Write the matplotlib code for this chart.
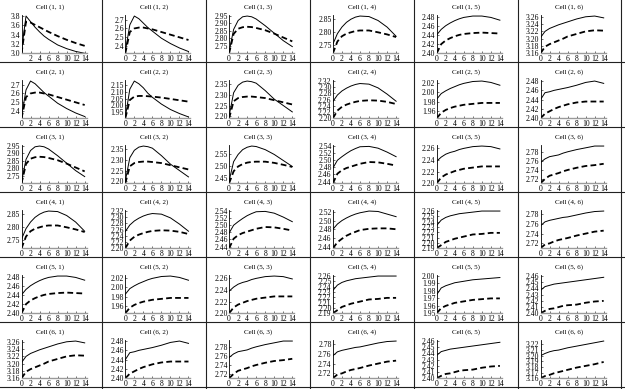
import matplotlib
matplotlib.use("Agg")
import matplotlib.pyplot as plt
from matplotlib.lines import Line2D

plt.rcParams['font.family'] = ['Liberation Serif', 'DejaVu Serif']

# horizon (periods)
t = [0, 1, 2, 3, 4, 5, 6, 8, 10, 12, 14]

# solid / dashed responses per cell (matrix is symmetric), plus y tick values
solid_11 = [3.05, 3.80, 3.68, 3.56, 3.46, 3.37, 3.30, 3.18, 3.10, 3.04, 3.00]
dashed_11 = [3.00, 3.68, 3.66, 3.61, 3.56, 3.51, 3.46, 3.37, 3.29, 3.22, 3.16]
ticks_11 = [3.0, 3.2, 3.4, 3.6, 3.8]

solid_12 = [2.34, 2.64, 2.74, 2.71, 2.66, 2.61, 2.57, 2.49, 2.43, 2.38, 2.34]
dashed_12 = [2.32, 2.56, 2.60, 2.61, 2.61, 2.60, 2.59, 2.56, 2.53, 2.50, 2.47]
ticks_12 = [2.4, 2.5, 2.6, 2.7]

solid_13 = [2.71, 2.86, 2.92, 2.945, 2.95, 2.945, 2.93, 2.885, 2.835, 2.785, 2.745]
dashed_13 = [2.70, 2.83, 2.865, 2.875, 2.878, 2.876, 2.87, 2.855, 2.832, 2.806, 2.78]
ticks_13 = [2.75, 2.80, 2.85, 2.90, 2.95]

solid_14 = [2.755, 2.795, 2.82, 2.838, 2.85, 2.858, 2.862, 2.86, 2.845, 2.82, 2.785]
dashed_14 = [2.72, 2.765, 2.785, 2.795, 2.80, 2.805, 2.807, 2.807, 2.80, 2.792, 2.782]
ticks_14 = [2.75, 2.80, 2.85]

solid_15 = [2.44, 2.452, 2.46, 2.466, 2.471, 2.475, 2.478, 2.481, 2.481, 2.478, 2.472]
dashed_15 = [2.40, 2.42, 2.428, 2.433, 2.437, 2.44, 2.442, 2.444, 2.445, 2.444, 2.443]
ticks_15 = [2.40, 2.42, 2.44, 2.46, 2.48]

solid_16 = [3.203, 3.22, 3.228, 3.233, 3.238, 3.242, 3.246, 3.254, 3.26, 3.262, 3.257]
dashed_16 = [3.16, 3.178, 3.185, 3.19, 3.195, 3.20, 3.206, 3.213, 3.22, 3.223, 3.222]
ticks_16 = [3.16, 3.18, 3.20, 3.22, 3.24, 3.26]

solid_22 = [1.91, 2.12, 2.18, 2.16, 2.13, 2.09, 2.06, 2.01, 1.97, 1.94, 1.915]
dashed_22 = [1.905, 2.04, 2.065, 2.07, 2.07, 2.068, 2.065, 2.058, 2.048, 2.038, 2.028]
ticks_22 = [1.95, 2.00, 2.05, 2.10, 2.15]

solid_23 = [2.20, 2.31, 2.345, 2.36, 2.365, 2.362, 2.355, 2.32, 2.28, 2.25, 2.22]
dashed_23 = [2.19, 2.27, 2.285, 2.29, 2.292, 2.292, 2.29, 2.285, 2.275, 2.265, 2.255]
ticks_23 = [2.20, 2.25, 2.30, 2.35]

solid_24 = [2.254, 2.275, 2.288, 2.297, 2.304, 2.309, 2.312, 2.31, 2.298, 2.278, 2.255]
dashed_24 = [2.20, 2.225, 2.237, 2.244, 2.249, 2.253, 2.256, 2.258, 2.257, 2.253, 2.246]
ticks_24 = [2.20, 2.22, 2.24, 2.26, 2.28, 2.30, 2.32]

solid_25 = [1.985, 1.997, 2.003, 2.008, 2.012, 2.016, 2.019, 2.023, 2.024, 2.021, 2.015]
dashed_25 = [1.944, 1.956, 1.962, 1.966, 1.969, 1.971, 1.973, 1.975, 1.977, 1.977, 1.977]
ticks_25 = [1.96, 1.98, 2.00, 2.02]

solid_26 = [2.44, 2.455, 2.457, 2.46, 2.462, 2.464, 2.466, 2.471, 2.477, 2.48, 2.475]
dashed_26 = [2.40, 2.41, 2.415, 2.42, 2.424, 2.427, 2.43, 2.434, 2.436, 2.436, 2.436]
ticks_26 = [2.40, 2.42, 2.44, 2.46, 2.48]

solid_33 = [2.44, 2.52, 2.55, 2.57, 2.58, 2.585, 2.583, 2.57, 2.55, 2.525, 2.50]
dashed_33 = [2.43, 2.48, 2.50, 2.51, 2.516, 2.519, 2.52, 2.52, 2.515, 2.507, 2.498]
ticks_33 = [2.45, 2.50, 2.55]

solid_34 = [2.478, 2.50, 2.51, 2.519, 2.527, 2.533, 2.538, 2.539, 2.534, 2.523, 2.51]
dashed_34 = [2.435, 2.462, 2.472, 2.478, 2.482, 2.486, 2.49, 2.495, 2.494, 2.49, 2.485]
ticks_34 = [2.44, 2.46, 2.48, 2.50, 2.52, 2.54]

solid_35 = [2.238, 2.245, 2.25, 2.253, 2.255, 2.258, 2.26, 2.263, 2.264, 2.263, 2.259]
dashed_35 = [2.20, 2.21, 2.215, 2.218, 2.221, 2.223, 2.225, 2.227, 2.229, 2.229, 2.229]
ticks_35 = [2.20, 2.22, 2.24, 2.26]

solid_36 = [2.757, 2.765, 2.77, 2.772, 2.774, 2.778, 2.781, 2.786, 2.79, 2.794, 2.794]
dashed_36 = [2.71, 2.72, 2.727, 2.73, 2.733, 2.737, 2.74, 2.745, 2.749, 2.751, 2.754]
ticks_36 = [2.72, 2.74, 2.76, 2.78]

solid_44 = [2.48, 2.492, 2.50, 2.506, 2.511, 2.515, 2.518, 2.522, 2.521, 2.515, 2.509]
dashed_44 = [2.436, 2.45, 2.458, 2.465, 2.47, 2.474, 2.478, 2.481, 2.482, 2.482, 2.48]
ticks_44 = [2.44, 2.46, 2.48, 2.50, 2.52]

solid_45 = [2.233, 2.243, 2.248, 2.251, 2.253, 2.255, 2.256, 2.258, 2.26, 2.26, 2.26]
dashed_45 = [2.19, 2.196, 2.202, 2.205, 2.208, 2.21, 2.212, 2.216, 2.217, 2.219, 2.219]
ticks_45 = [2.19, 2.20, 2.21, 2.22, 2.23, 2.24, 2.25, 2.26]

solid_46 = [2.756, 2.764, 2.767, 2.769, 2.771, 2.773, 2.774, 2.778, 2.782, 2.785, 2.786]
dashed_46 = [2.71, 2.718, 2.72, 2.724, 2.727, 2.729, 2.731, 2.736, 2.74, 2.744, 2.746]
ticks_46 = [2.72, 2.74, 2.76, 2.78]

solid_55 = [1.975, 1.984, 1.987, 1.989, 1.991, 1.992, 1.993, 1.995, 1.996, 1.997, 1.998]
dashed_55 = [1.95, 1.957, 1.96, 1.962, 1.964, 1.965, 1.966, 1.968, 1.969, 1.97, 1.97]
ticks_55 = [1.95, 1.96, 1.97, 1.98, 1.99, 2.00]

solid_56 = [2.437, 2.443, 2.445, 2.447, 2.448, 2.449, 2.45, 2.452, 2.454, 2.456, 2.458]
dashed_56 = [2.40, 2.404, 2.407, 2.408, 2.41, 2.412, 2.413, 2.414, 2.417, 2.419, 2.42]
ticks_56 = [2.40, 2.41, 2.42, 2.43, 2.44, 2.45, 2.46]

solid_66 = [3.20, 3.204, 3.207, 3.209, 3.21, 3.212, 3.214, 3.217, 3.22, 3.223, 3.226]
dashed_66 = [3.16, 3.164, 3.166, 3.169, 3.171, 3.173, 3.175, 3.179, 3.182, 3.185, 3.189]
ticks_66 = [3.16, 3.17, 3.18, 3.19, 3.20, 3.21, 3.22]

cells = {
    (1, 1): (solid_11, dashed_11, ticks_11), (1, 2): (solid_12, dashed_12, ticks_12),
    (1, 3): (solid_13, dashed_13, ticks_13), (1, 4): (solid_14, dashed_14, ticks_14),
    (1, 5): (solid_15, dashed_15, ticks_15), (1, 6): (solid_16, dashed_16, ticks_16),
    (2, 2): (solid_22, dashed_22, ticks_22), (2, 3): (solid_23, dashed_23, ticks_23),
    (2, 4): (solid_24, dashed_24, ticks_24), (2, 5): (solid_25, dashed_25, ticks_25),
    (2, 6): (solid_26, dashed_26, ticks_26), (3, 3): (solid_33, dashed_33, ticks_33),
    (3, 4): (solid_34, dashed_34, ticks_34), (3, 5): (solid_35, dashed_35, ticks_35),
    (3, 6): (solid_36, dashed_36, ticks_36), (4, 4): (solid_44, dashed_44, ticks_44),
    (4, 5): (solid_45, dashed_45, ticks_45), (4, 6): (solid_46, dashed_46, ticks_46),
    (5, 5): (solid_55, dashed_55, ticks_55), (5, 6): (solid_56, dashed_56, ticks_56),
    (6, 6): (solid_66, dashed_66, ticks_66),
}

W, H = 625, 389
fig = plt.figure(figsize=(W / 100, H / 100), dpi=100)
# the table is cropped a little on the left/top
cw, ch = 103.8, 65.0
ox, oy = -1.5, -3.0

# table grid
for k in range(7):
    x = (ox + k * cw) / W
    if 0 <= x <= 1:
        fig.add_artist(Line2D([x, x], [0, 1], color='#222222', lw=0.8))
    y = 1 - (oy + k * ch) / H
    if 0 <= y <= 1:
        fig.add_artist(Line2D([0, 1], [y, y], color='#222222', lw=0.8))

for i in range(1, 7):
    for j in range(1, 7):
        s, d, ticks = cells[(min(i, j), max(i, j))]
        x0 = ox + (j - 1) * cw
        y0 = oy + (i - 1) * ch
        ax = fig.add_axes([(x0 + 23) / W, 1 - (y0 + 56.3) / H, 65 / W, 38 / H])
        ax.plot(t, s, color='black', lw=0.7)
        ax.plot(t, d, color='black', lw=1.3, dashes=(3.2, 1.8))
        lo = min(min(s), min(d))
        hi = max(max(s), max(d), max(ticks))
        ax.set_ylim(lo, hi + 0.02 * (hi - lo))
        ax.set_xlim(0, 14.4)
        ax.set_yticks(ticks)
        one = all(abs(v * 10 - round(v * 10)) < 1e-6 for v in ticks)
        ax.set_yticklabels([('%.1f' if one else '%.2f') % v for v in ticks])
        xt = [2, 4, 6, 8, 10, 12, 14] if (i, j) == (1, 1) else [0, 2, 4, 6, 8, 10, 12, 14]
        ax.set_xticks(xt)
        ax.tick_params(labelsize=5.5, length=1.5, width=0.4, pad=1, direction='in')
        for side in ('top', 'right'):
            ax.spines[side].set_visible(False)
        ax.spines['left'].set_linewidth(0.6)
        ax.spines['bottom'].set_color('#9a9a9a')
        ax.spines['bottom'].set_linewidth(1.0)
        ax.patch.set_alpha(0)
        fig.text((x0 + cw / 2) / W, 1 - (y0 + 10) / H, 'Cell (%d, %d)' % (i, j),
                 ha='center', va='center', fontsize=5)

fig.savefig('out.png', dpi=100)
